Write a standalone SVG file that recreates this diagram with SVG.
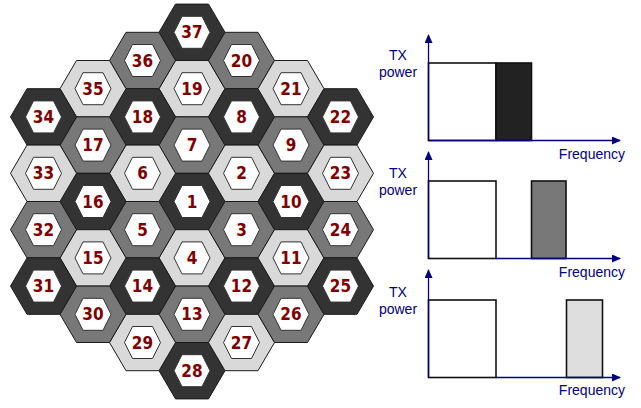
<svg xmlns="http://www.w3.org/2000/svg" xmlns:xlink="http://www.w3.org/1999/xlink" width="641" height="408" viewBox="0 0 641 408">
<style>
.o{stroke:#1a1a1a;stroke-width:1}
.d .o{fill:#333333}
.m .o{fill:#787878}
.l .o{fill:#d9d9d9}
.i{fill:#ffffff;stroke:#333333;stroke-width:1}
.n{font-family:"DejaVu Sans Condensed","Liberation Sans",sans-serif;font-stretch:condensed;font-weight:bold;font-size:17px;fill:#800000;text-anchor:middle}
.ax{stroke:#000080;stroke-width:1.3;fill:none}
.lb{font-family:"Liberation Sans",Arial,sans-serif;font-size:14px;fill:#000080}
.bx{stroke:#111111;stroke-width:1.6}
</style>
<defs>
<polygon id="ho" points="-33,0 -16.5,-28.2 16.5,-28.2 33,0 16.5,28.2 -16.5,28.2"/>
<polygon id="hi" points="-18,0 -10,-16 10,-16 18,0 10,16 -10,16"/>
<marker id="ar" markerWidth="9" markerHeight="8" refX="8" refY="4" orient="auto" markerUnits="userSpaceOnUse">
<path d="M0,0 L9,4 L0,8 Z" fill="#000080"/>
</marker>
</defs>
<g id="cells">
<g id="c37" class="d" transform="translate(192,32.3)"><use class="o" href="#ho"/><use class="i" href="#hi"/><text class="n" y="6">37</text></g>
<g id="c19" class="l" transform="translate(192,88.7)"><use class="o" href="#ho"/><use class="i" href="#hi"/><text class="n" y="6">19</text></g>
<g id="c7" class="m" transform="translate(192,145.1)"><use class="o" href="#ho"/><use class="i" href="#hi"/><text class="n" y="6">7</text></g>
<g id="c1" class="d" transform="translate(192,201.5)"><use class="o" href="#ho"/><use class="i" href="#hi"/><text class="n" y="6">1</text></g>
<g id="c4" class="l" transform="translate(192,257.9)"><use class="o" href="#ho"/><use class="i" href="#hi"/><text class="n" y="6">4</text></g>
<g id="c13" class="m" transform="translate(192,314.3)"><use class="o" href="#ho"/><use class="i" href="#hi"/><text class="n" y="6">13</text></g>
<g id="c28" class="d" transform="translate(192,370.7)"><use class="o" href="#ho"/><use class="i" href="#hi"/><text class="n" y="6">28</text></g>

<g id="c36" class="m" transform="translate(142.5,60.5)"><use class="o" href="#ho"/><use class="i" href="#hi"/><text class="n" y="6">36</text></g>
<g id="c18" class="d" transform="translate(142.5,116.9)"><use class="o" href="#ho"/><use class="i" href="#hi"/><text class="n" y="6">18</text></g>
<g id="c6" class="l" transform="translate(142.5,173.3)"><use class="o" href="#ho"/><use class="i" href="#hi"/><text class="n" y="6">6</text></g>
<g id="c5" class="m" transform="translate(142.5,229.7)"><use class="o" href="#ho"/><use class="i" href="#hi"/><text class="n" y="6">5</text></g>
<g id="c14" class="d" transform="translate(142.5,286.1)"><use class="o" href="#ho"/><use class="i" href="#hi"/><text class="n" y="6">14</text></g>
<g id="c29" class="l" transform="translate(142.5,342.5)"><use class="o" href="#ho"/><use class="i" href="#hi"/><text class="n" y="6">29</text></g>

<g id="c20" class="m" transform="translate(241.5,60.5)"><use class="o" href="#ho"/><use class="i" href="#hi"/><text class="n" y="6">20</text></g>
<g id="c8" class="d" transform="translate(241.5,116.9)"><use class="o" href="#ho"/><use class="i" href="#hi"/><text class="n" y="6">8</text></g>
<g id="c2" class="l" transform="translate(241.5,173.3)"><use class="o" href="#ho"/><use class="i" href="#hi"/><text class="n" y="6">2</text></g>
<g id="c3" class="m" transform="translate(241.5,229.7)"><use class="o" href="#ho"/><use class="i" href="#hi"/><text class="n" y="6">3</text></g>
<g id="c12" class="d" transform="translate(241.5,286.1)"><use class="o" href="#ho"/><use class="i" href="#hi"/><text class="n" y="6">12</text></g>
<g id="c27" class="l" transform="translate(241.5,342.5)"><use class="o" href="#ho"/><use class="i" href="#hi"/><text class="n" y="6">27</text></g>

<g id="c35" class="l" transform="translate(93,88.7)"><use class="o" href="#ho"/><use class="i" href="#hi"/><text class="n" y="6">35</text></g>
<g id="c17" class="m" transform="translate(93,145.1)"><use class="o" href="#ho"/><use class="i" href="#hi"/><text class="n" y="6">17</text></g>
<g id="c16" class="d" transform="translate(93,201.5)"><use class="o" href="#ho"/><use class="i" href="#hi"/><text class="n" y="6">16</text></g>
<g id="c15" class="l" transform="translate(93,257.9)"><use class="o" href="#ho"/><use class="i" href="#hi"/><text class="n" y="6">15</text></g>
<g id="c30" class="m" transform="translate(93,314.3)"><use class="o" href="#ho"/><use class="i" href="#hi"/><text class="n" y="6">30</text></g>

<g id="c21" class="l" transform="translate(291,88.7)"><use class="o" href="#ho"/><use class="i" href="#hi"/><text class="n" y="6">21</text></g>
<g id="c9" class="m" transform="translate(291,145.1)"><use class="o" href="#ho"/><use class="i" href="#hi"/><text class="n" y="6">9</text></g>
<g id="c10" class="d" transform="translate(291,201.5)"><use class="o" href="#ho"/><use class="i" href="#hi"/><text class="n" y="6">10</text></g>
<g id="c11" class="l" transform="translate(291,257.9)"><use class="o" href="#ho"/><use class="i" href="#hi"/><text class="n" y="6">11</text></g>
<g id="c26" class="m" transform="translate(291,314.3)"><use class="o" href="#ho"/><use class="i" href="#hi"/><text class="n" y="6">26</text></g>

<g id="c34" class="d" transform="translate(43.5,116.9)"><use class="o" href="#ho"/><use class="i" href="#hi"/><text class="n" y="6">34</text></g>
<g id="c33" class="l" transform="translate(43.5,173.3)"><use class="o" href="#ho"/><use class="i" href="#hi"/><text class="n" y="6">33</text></g>
<g id="c32" class="m" transform="translate(43.5,229.7)"><use class="o" href="#ho"/><use class="i" href="#hi"/><text class="n" y="6">32</text></g>
<g id="c31" class="d" transform="translate(43.5,286.1)"><use class="o" href="#ho"/><use class="i" href="#hi"/><text class="n" y="6">31</text></g>

<g id="c22" class="d" transform="translate(340.5,116.9)"><use class="o" href="#ho"/><use class="i" href="#hi"/><text class="n" y="6">22</text></g>
<g id="c23" class="l" transform="translate(340.5,173.3)"><use class="o" href="#ho"/><use class="i" href="#hi"/><text class="n" y="6">23</text></g>
<g id="c24" class="m" transform="translate(340.5,229.7)"><use class="o" href="#ho"/><use class="i" href="#hi"/><text class="n" y="6">24</text></g>
<g id="c25" class="d" transform="translate(340.5,286.1)"><use class="o" href="#ho"/><use class="i" href="#hi"/><text class="n" y="6">25</text></g>
</g>

<g id="chart1">
<rect class="bx" x="428.5" y="63" width="67.5" height="77.5" fill="#ffffff"/>
<rect class="bx" x="496" y="63" width="35.5" height="77.5" fill="#222222"/>
<text class="lb" x="398" y="60" text-anchor="middle">TX</text>
<text class="lb" x="398" y="77" text-anchor="middle">power</text>
<text class="lb" x="625" y="159" text-anchor="end">Frequency</text>
</g>
<g id="chart2">
<rect class="bx" x="428.5" y="181" width="67.5" height="77.5" fill="#ffffff"/>
<rect class="bx" x="531.5" y="181" width="34.5" height="77.5" fill="#787878"/>
<text class="lb" x="398" y="178" text-anchor="middle">TX</text>
<text class="lb" x="398" y="195" text-anchor="middle">power</text>
<text class="lb" x="625" y="277" text-anchor="end">Frequency</text>
</g>
<g id="chart3">
<rect class="bx" x="428.5" y="300" width="67.5" height="77.5" fill="#ffffff"/>
<rect class="bx" x="566.5" y="300" width="36" height="77.5" fill="#dedede"/>
<text class="lb" x="398" y="297" text-anchor="middle">TX</text>
<text class="lb" x="398" y="314" text-anchor="middle">power</text>
<text class="lb" x="625" y="394.5" text-anchor="end">Frequency</text>
</g>
<g id="connectors">
<path class="ax" d="M428.5,140.5 L428.5,35" marker-end="url(#ar)"/>
<path class="ax" d="M428.5,140.5 L620,140.5" marker-end="url(#ar)"/>
<path class="ax" d="M428.5,258.5 L428.5,152" marker-end="url(#ar)"/>
<path class="ax" d="M496,258.5 L620,258.5" marker-end="url(#ar)"/>
<path class="ax" d="M428.5,377.5 L428.5,270" marker-end="url(#ar)"/>
<path class="ax" d="M496,377.5 L620,377.5" marker-end="url(#ar)"/>
</g>
</svg>
